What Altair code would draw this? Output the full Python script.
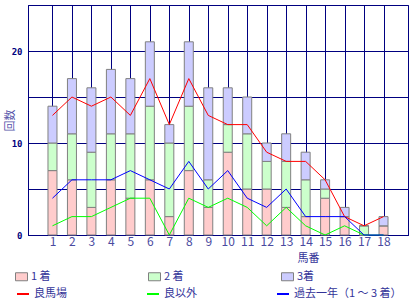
import altair as alt
import pandas as pd

horse = list(range(1, 19))
first = [7, 6, 3, 6, 4, 6, 2, 7, 3, 9, 5, 5, 3, 2, 4, 2, 0, 1]
second = [3, 5, 6, 5, 7, 8, 8, 7, 3, 3, 6, 3, 5, 4, 1, 0, 1, 0]
third = [4, 6, 7, 7, 6, 7, 2, 7, 10, 4, 4, 2, 3, 3, 1, 1, 0, 1]
good = [13, 15, 14, 15, 13, 17, 12, 17, 13, 12, 12, 9, 8, 8, 6, 2, 1, 2]
other = [1, 2, 2, 3, 4, 4, 0, 4, 3, 4, 3, 1, 3, 1, 0, 1, 0, 0]
past = [4, 6, 6, 6, 7, 6, 5, 8, 5, 7, 4, 3, 5, 2, 2, 2, 0, 0]

rank_labels = ["1 着", "2 着", "3着"]
line_labels = ["良馬場", "良以外", "過去一年（1 ～ 3 着）"]
y_ticks = [0, 5, 10, 15, 20, 25]

rows = []
for i, h in enumerate(horse):
    for k, (lab, vals) in enumerate(zip(rank_labels, [first, second, third])):
        rows.append({"馬番": h, "着順": lab, "order": k, "回数": vals[i]})
bars_df = pd.DataFrame(rows)

lrows = []
for i, h in enumerate(horse):
    for k, (lab, vals) in enumerate(zip(line_labels, [good, other, past])):
        lrows.append({"馬番": h, "series": lab, "sorder": k, "回数": vals[i]})
lines_df = pd.DataFrame(lrows)

FONT = "Noto Sans CJK JP"
NAVY = "#000080"
LBL = "#333399"

x_axis = alt.Axis(
    values=horse, title="馬番", grid=True, gridColor=NAVY, gridOpacity=1,
    domainColor=NAVY, ticks=False, labelColor="#4A4AA0", labelFontSize=12,
    labelFont=FONT, labelPadding=1, titleX=280, titleY=23,
    titleAlign="center", titleBaseline="middle", titleFont=FONT,
    titleFontSize=11, titleFontWeight="normal", titleColor=LBL,
)
y_axis = alt.Axis(
    values=y_ticks, title="回数", grid=True, gridColor=NAVY, gridOpacity=1,
    domainColor=NAVY, ticks=False, labelExpr="datum.value % 10 == 0 ? datum.label : ''",
    labelColor=NAVY, labelFontSize=9, labelFontWeight="bold",
    labelFont="DejaVu Sans Mono", labelPadding=6, titleX=-18, titleY=115,
    titleAlign="center", titleBaseline="middle", titleFont=FONT,
    titleFontSize=11, titleFontWeight="normal", titleColor="#5555AA",
)
x_scale = alt.Scale(domain=[0, 19], nice=False, zero=False)
y_scale = alt.Scale(domain=[0, 25], nice=False)

bars = alt.Chart(bars_df).mark_bar(size=9, stroke="#808080", strokeWidth=1).encode(
    x=alt.X("馬番:Q", scale=x_scale, axis=x_axis),
    y=alt.Y("回数:Q", stack="zero", scale=y_scale, axis=y_axis),
    fill=alt.Fill(
        "着順:N",
        scale=alt.Scale(domain=rank_labels, range=["#FFCCCC", "#CCFFCC", "#CCCCFF"]),
        legend=alt.Legend(
            orient="none", legendX=-12, legendY=266, direction="horizontal",
            columns=3, columnPadding=95, title=None, padding=0,
            symbolType="M-1.2,-0.8H1.2V0.8H-1.2Z", symbolSize=100,
            symbolStrokeColor="#808080", symbolStrokeWidth=1,
            labelFont=FONT, labelFontSize=11, labelColor=LBL, labelOffset=4,
        ),
    ),
    order=alt.Order("order:Q", sort="ascending"),
)

lines = alt.Chart(lines_df).mark_line(strokeWidth=1).encode(
    x=alt.X("馬番:Q", scale=x_scale, axis=x_axis),
    y=alt.Y("回数:Q", scale=y_scale, axis=y_axis),
    stroke=alt.Stroke(
        "series:N",
        scale=alt.Scale(domain=line_labels, range=["#FF0000", "#00FF00", "#0000FF"]),
        legend=alt.Legend(
            orient="none", legendX=-12, legendY=282, direction="horizontal",
            columns=3, columnPadding=76, title=None, padding=0,
            symbolType="stroke", symbolSize=144, symbolStrokeWidth=2,
            labelFont=FONT, labelFontSize=11, labelColor=LBL, labelOffset=4,
        ),
    ),
    order=alt.Order("sorder:Q"),
)

chart = alt.layer(bars, lines).properties(
    width=380, height=230,
    autosize=alt.AutoSizeParams(type="none"),
    padding={"left": 28, "top": 5, "right": 12, "bottom": 65},
    background="white",
).configure_view(stroke=NAVY, strokeWidth=1)

chart.save("out.html", embed_options={"renderer": "svg", "actions": False})
